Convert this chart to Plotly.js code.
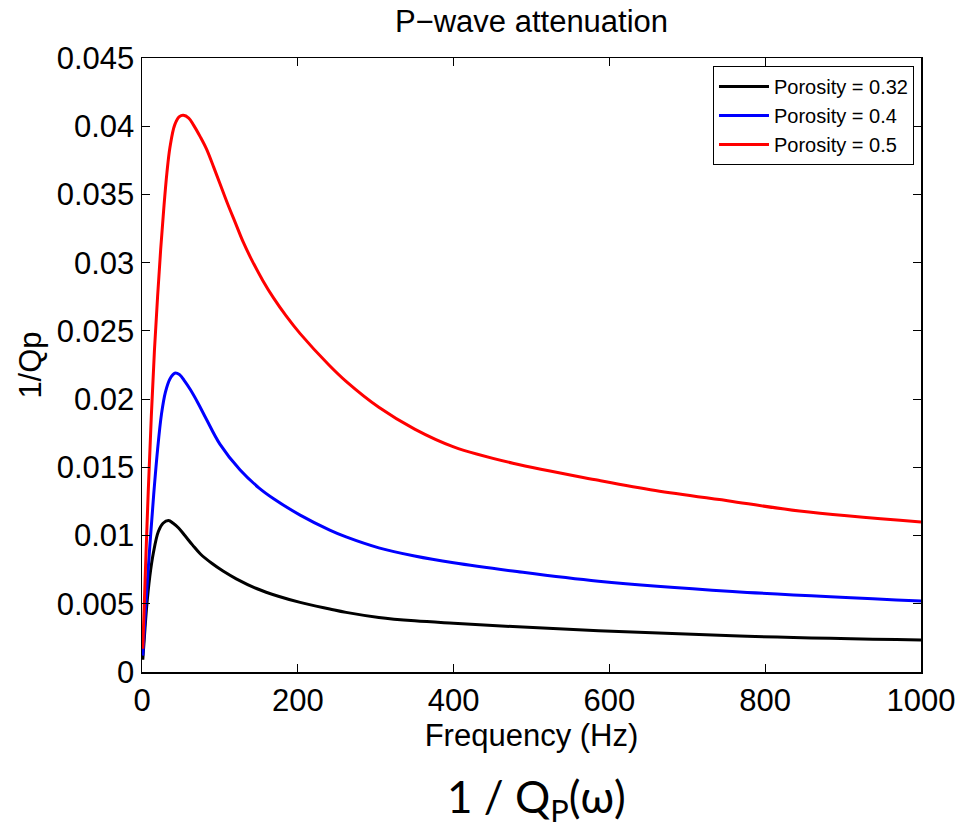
<!DOCTYPE html>
<html>
<head>
<meta charset="utf-8">
<script src="https://cdn.plot.ly/plotly-3.0.1.min.js"></script>
<style>html,body{margin:0;padding:0;background:#fff;}</style>
</head>
<body>
<div id="chart" style="width:960px;height:828px;"></div>
<script>
// Porosity = 0.32 (black)
const freq032 = [1, 3, 6, 10, 14.5, 21, 27, 34, 40, 47, 55, 65, 75, 90, 104, 121, 147, 175, 203, 241, 262, 304, 350, 400, 476, 586, 758, 1000];
const q032    = [0.0009, 0.0025, 0.0048, 0.0070, 0.0087, 0.0103, 0.0109, 0.0111, 0.0109, 0.01055, 0.0100, 0.0093, 0.00865, 0.00795, 0.0074, 0.00683, 0.00612, 0.00555, 0.0051, 0.00462, 0.00437, 0.0040, 0.00375, 0.00357, 0.00333, 0.00303, 0.00265, 0.00235];
// Porosity = 0.4 (blue)
const freq04 = [1, 5, 10, 15, 20, 25, 30, 36, 42, 48, 55, 62, 72, 82, 100, 126, 150, 169, 203, 241, 262, 304, 350, 400, 476, 586, 758, 1000];
const q04    = [0.0012, 0.0050, 0.0092, 0.0130, 0.0163, 0.0189, 0.0205, 0.0215, 0.0219, 0.0218, 0.0213, 0.0207, 0.0197, 0.0186, 0.0167, 0.0148, 0.0135, 0.0127, 0.0115, 0.0104, 0.0099, 0.0091, 0.0085, 0.0080, 0.0074, 0.00665, 0.0059, 0.0052];
// Porosity = 0.5 (red)
const freq05 = [1, 4, 8, 12, 16, 20, 24, 28, 32, 36, 42, 48, 53, 60, 66, 75, 83, 92, 100, 110, 120, 130, 140, 155, 169, 185, 203, 240, 262, 304, 350, 400, 476, 586, 659, 758, 844, 1000];
const q05    = [0.0017, 0.0068, 0.0132, 0.0188, 0.0236, 0.0275, 0.0310, 0.0340, 0.0366, 0.0385, 0.0401, 0.0407, 0.0408, 0.0406, 0.0401, 0.0392, 0.0383, 0.0370, 0.0358, 0.0343, 0.0329, 0.0315, 0.0303, 0.0287, 0.0274, 0.0261, 0.0248, 0.0225, 0.0213, 0.0194, 0.0178, 0.0165, 0.0153, 0.01405, 0.0133, 0.0125, 0.0118, 0.0110];

const seriesNames = ['Porosity = 0.32', 'Porosity = 0.4', 'Porosity = 0.5'];
const seriesColors = ['#000000', '#0000ff', '#ff0000'];
const xs = [freq032, freq04, freq05];
const ys = [q032, q04, q05];

const traces = xs.map((x, i) => ({
  x: x, y: ys[i], type: 'scatter', mode: 'lines', name: seriesNames[i],
  line: {color: seriesColors[i], width: 3, shape: 'spline', smoothing: 1}
}));

const FONT = 'Liberation Sans, Arial, Helvetica, sans-serif';
const axisCommon = {
  ticks: 'inside', ticklen: 8, tickwidth: 1, tickcolor: '#000',
  showline: true, linecolor: '#000', linewidth: 1.5, mirror: 'ticks',
  showgrid: false, zeroline: false,
  tickfont: {family: FONT, size: 31, color: '#000'}
};

const layout = {
  width: 960, height: 828,
  margin: {l: 142, r: 39, t: 58, b: 156},
  paper_bgcolor: '#fff', plot_bgcolor: '#fff',
  font: {family: FONT, color: '#000'},
  title: {text: 'P\u2212wave attenuation', font: {family: FONT, size: 31, color: '#000'},
          xref: 'paper', x: 0.5, xanchor: 'center', yref: 'container', y: 0.975, yanchor: 'middle'},
  xaxis: Object.assign({}, axisCommon, {
    range: [0, 1000], dtick: 200, tick0: 0,
    title: {text: 'Frequency (Hz)', font: {family: FONT, size: 31, color: '#000'}, standoff: 2}
  }),
  yaxis: Object.assign({}, axisCommon, {
    range: [0, 0.045], dtick: 0.005, tick0: 0,
    title: {text: '1/Qp', font: {family: FONT, size: 31, color: '#000'}, standoff: 6}
  }),
  showlegend: true,
  legend: {
    x: 0.991, xanchor: 'right', y: 0.987, yanchor: 'top',
    bgcolor: '#fff', bordercolor: '#000', borderwidth: 1,
    font: {family: FONT, size: 20, color: '#000'}, tracegroupgap: 0, itemwidth: 50
  },
  annotations: [{
    text: '1 / Q<sub>P</sub>(\u03c9)', xref: 'paper', yref: 'paper',
    x: 0.507, y: -0.208, xanchor: 'center', yanchor: 'middle', showarrow: false,
    font: {family: 'Lato, Open Sans, sans-serif', size: 44, color: '#000'}
  }]
};

Plotly.newPlot('chart', traces, layout, {displayModeBar: false, staticPlot: true});
</script>
</body>
</html>
